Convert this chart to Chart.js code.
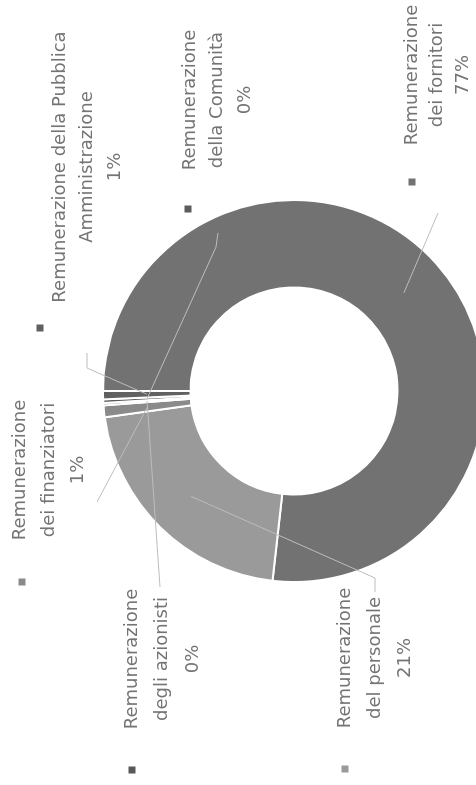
<!DOCTYPE html>
<html><head><meta charset="utf-8">
<script src="https://cdn.jsdelivr.net/npm/chart.js@4"></script>
<style>
html,body{margin:0;padding:0;background:#fff;overflow:hidden;width:476px;height:785px;}
#rot{position:absolute;left:0;top:0;width:785px;height:500px;transform-origin:0 0;transform:translate(0px,785px) rotate(-90deg);}
</style></head><body>
<div id="rot"><canvas id="c" width="785" height="500"></canvas></div>
<script>
// ---- data ----
const categories = [
  ['Remunerazione', 'dei fornitori'],
  ['Remunerazione', 'del personale'],
  ['Remunerazione', 'dei finanziatori'],
  ['Remunerazione', 'degli azionisti'],
  ['Remunerazione', 'della Comunità'],
  ['Remunerazione della Pubblica', 'Amministrazione']
];
const values = [76.8, 21.0, 1.0, 0.2, 0.3, 0.7];
const total = values.reduce((a, b) => a + b, 0);
const percentLabels = values.map(v => Math.round(v / total * 100) + '%');

// ---- styles / layout (original landscape frame) ----
const sliceColors = ['#727272', '#9a9a9a', '#8a8a8a', '#585858', '#5c5c5c', '#606060'];
const labelLayout = [
  {cx: 710, y: 412, lh: 25.5, key: [603, 412], path: [[572, 438]]},
  {cx: 127, y: 345, lh: 30,   key: [16, 345],  path: [[193, 375], [207, 375]]},
  {cx: 315, y: 20,  lh: 29,   key: [203, 22],  path: [[283, 97]]},
  {cx: 126, y: 132, lh: 30.5, key: [15, 132],  path: [[198, 160]]},
  {cx: 685, y: 190, lh: 27.5, key: [576, 188], path: [[552, 218], [538, 216]]},
  {cx: 618, y: 60,  lh: 27.5, key: [457, 40],  path: [[432, 87], [417, 87]]}
];

const labelPlugin = {
  id: 'excelLabels',
  afterDatasetsDraw(chart) {
    const ctx = chart.ctx;
    const meta = chart.getDatasetMeta(0);
    ctx.save();
    meta.data.forEach((arc, i) => {
      const L = labelLayout[i];
      const p = arc.tooltipPosition();
      // leader line
      ctx.strokeStyle = '#bdbdbd';
      ctx.lineWidth = 1;
      ctx.beginPath();
      ctx.moveTo(L.path[0][0], L.path[0][1]);
      for (let k = 1; k < L.path.length; k++) ctx.lineTo(L.path[k][0], L.path[k][1]);
      ctx.lineTo(p.x, p.y);
      ctx.stroke();
      // legend key
      ctx.fillStyle = sliceColors[i];
      ctx.fillRect(L.key[0] - 3.5, L.key[1] - 3.5, 7, 7);
      // text
      ctx.fillStyle = '#747474';
      ctx.font = '18px "DejaVu Sans"';
      ctx.textAlign = 'center';
      ctx.textBaseline = 'middle';
      const lines = categories[i].concat([percentLabels[i]]);
      lines.forEach((t, j) => ctx.fillText(t, L.cx, L.y + j * L.lh));
    });
    ctx.restore();
  }
};

new Chart(document.getElementById('c'), {
  type: 'doughnut',
  data: {
    labels: categories,
    datasets: [{
      data: values,
      backgroundColor: sliceColors,
      borderColor: '#ffffff',
      borderWidth: 2
    }]
  },
  options: {
    responsive: false,
    animation: false,
    radius: 191,
    cutout: 103,
    layout: {padding: {top: 103, bottom: 15, left: 203, right: 200}},
    plugins: {legend: {display: false}, tooltip: {enabled: false}}
  },
  plugins: [labelPlugin]
});
</script>
</body></html>
